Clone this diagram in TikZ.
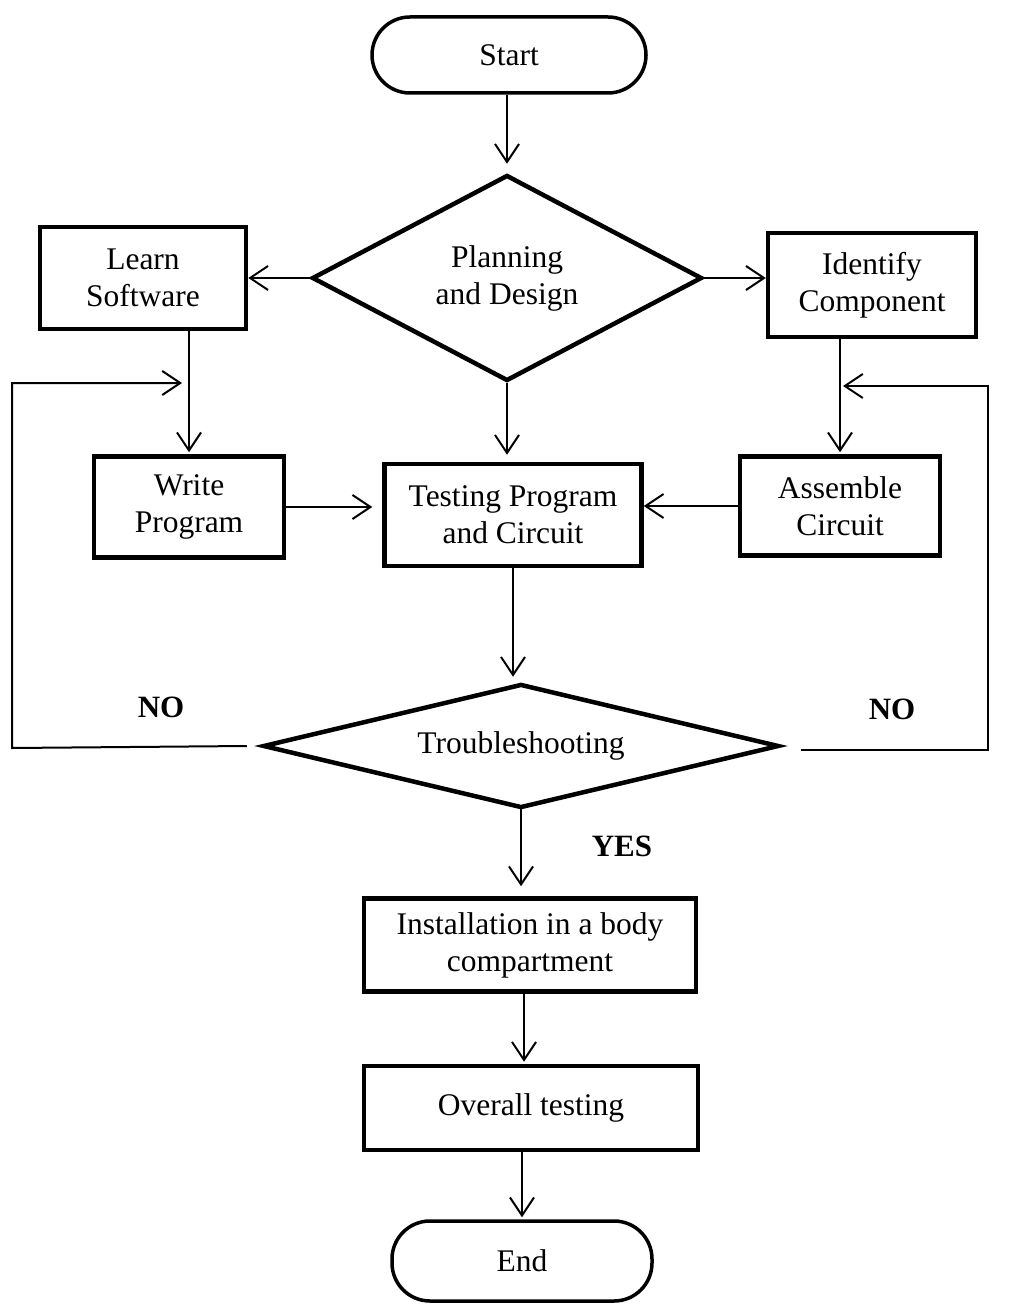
\documentclass[tikz,border=0pt]{standalone}
\usepackage{fontspec}
\setmainfont{Liberation Serif}
\usetikzlibrary{arrows.meta,shapes.geometric}
\begin{document}
\begin{tikzpicture}[x=1pt,y=-1pt,
  font=\fontsize{31.5}{37}\selectfont,
  box/.style={draw, line width=4.5pt, align=center, inner sep=0pt},
  term/.style={draw, line width=3.5pt, rounded corners=38pt, inner sep=0pt, align=center},
  dec/.style={draw, diamond, line width=4.5pt, inner sep=0pt, align=center},
  arr/.style={line width=2pt, -{Straight Barb[length=18pt,width=24pt,line width=2pt]}},
  fb/.style={line width=2pt},
  lab/.style={font=\fontsize{31}{37}\selectfont\bfseries}
]
\useasboundingbox (0,0) rectangle (1019,1305);

\node[term, minimum width=274pt, minimum height=76pt] (start) at (509,55) {Start};
\node[dec, aspect=1.89, minimum width=390pt, minimum height=206pt] (plan) at (507,278) {Planning\\and Design};
\node[box, minimum width=206pt, minimum height=102pt] (learn) at (143,278) {Learn\\Software};
\node[box, minimum width=208pt, minimum height=104pt] (ident) at (872,285) {Identify\\Component};
\node[box, minimum width=190pt, minimum height=101pt] (write) at (189,507) {Write\\Program};
\node[box, minimum width=257pt, minimum height=102pt] (test) at (513,515) {Testing Program\\and Circuit};
\node[box, minimum width=200pt, minimum height=99pt] (assem) at (840,506) {Assemble\\Circuit};
\node[dec, aspect=4.16, minimum width=516pt, minimum height=124pt] (trouble) at (521,746) {Troubleshooting};
\node[box, minimum width=332pt, minimum height=93pt] (install) at (530,945) {Installation in a body\\compartment};
\node[box, minimum width=334pt, minimum height=84pt] (overall) at (531,1108) {Overall testing};
\node[term, minimum width=260pt, minimum height=80pt] (end) at (522,1261) {End};

\node[lab] (no1) at (161,707) {NO};
\node[lab] (no2) at (892,709) {NO};
\node[lab] (yes) at (622,846) {YES};

\coordinate (l1) at (12,748);
\coordinate (l2) at (12,383);
\coordinate (ltip) at (182,383);
\coordinate (r1) at (988,750);
\coordinate (r2) at (988,386);
\coordinate (rtip) at (843,386);

\draw[arr, shorten >=9pt] (start.south -| plan.north) -- (plan.north);
\draw[arr] (plan.west) -- (learn.east);
\draw[arr] (plan.east) -- (plan.east -| ident.west);
\draw[arr, shorten >=2pt] (learn.south -| write.north) -- (write.north);
\draw[arr, shorten >=2pt] (ident.south -| assem.north) -- (assem.north);
\draw[arr, shorten >=7pt] (plan.south) -- (plan.south |- test.north);
\draw[arr, shorten >=10pt] (write.east) -- (write.east -| test.west);
\draw[arr] (assem.west) -- (assem.west -| test.east);
\draw[arr, shorten >=5pt] (test.south) -- (test.south |- trouble.north);
\draw[arr, shorten >=10pt] ([yshift=4pt]trouble.south) -- (trouble.south |- install.north);
\draw[arr, shorten >=2pt] (install.south -| 524,0) -- (overall.north -| 524,0);
\draw[arr, shorten >=2pt] (overall.south -| end.north) -- (end.north);

\draw[fb, -{Straight Barb[length=18pt,width=24pt,line width=2pt]}] ([xshift=-14pt]trouble.west) -- (l1) -- (l2) -- (ltip);
\draw[fb, -{Straight Barb[length=18pt,width=24pt,line width=2pt]}] ([xshift=20pt]trouble.east |- r1) -- (r1) -- (r2) -- (rtip);
\end{tikzpicture}
\end{document}
